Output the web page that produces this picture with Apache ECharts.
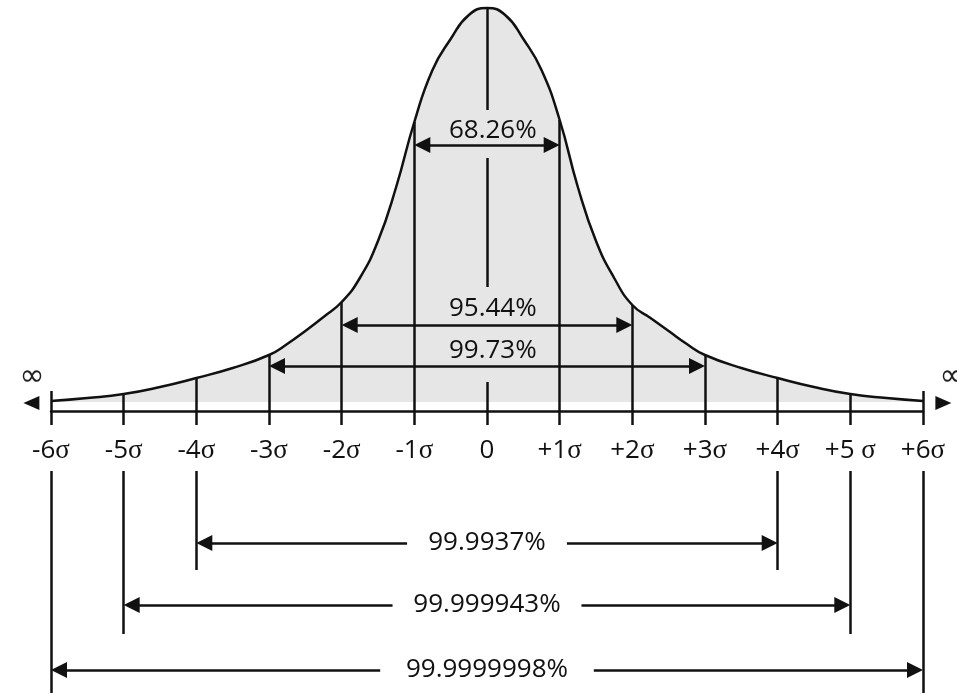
<!DOCTYPE html>
<html>
<head>
<meta charset="utf-8">
<title>Normal distribution – sigma bands</title>
<script src="https://cdn.jsdelivr.net/npm/echarts@6/dist/echarts.min.js"></script>
<style>
  html, body { margin: 0; padding: 0; background: #fff; }
  #chart { width: 957px; height: 693px; }
</style>
</head>
<body>
<div id="chart"></div>
<script>
// curve: x in sigma, height = px above the axis line
const curveSigma = [-6, -5.5, -5, -4.5, -4, -3.5, -3, -2.75, -2.5, -2.25, -2, -1.75, -1.5, -1.25, -1, -0.75, -0.5, -0.25, 0,
  0.25, 0.5, 0.75, 1, 1.25, 1.5, 1.75, 2, 2.25, 2.5, 2.75, 3, 3.5, 4, 4.5, 5, 5.5, 6]
const curveHeight = [10, 13, 17, 24, 33, 43, 56, 67, 80, 94, 109, 133, 170, 224, 289, 341, 372, 396, 403,
  396, 372, 341, 291, 224, 170, 133, 106, 93, 80, 67, 56, 43, 33, 24, 17, 13, 10]

const tickSigma = [-6, -5, -4, -3, -2, -1, 0, 1, 2, 3, 4, 5, 6]
const tickLabels = ['-6σ', '-5σ', '-4σ', '-3σ', '-2σ', '-1σ', '0', '+1σ', '+2σ', '+3σ', '+4σ', '+5 σ', '+6σ']

const innerBandLabels = ['68.26%', '95.44%', '99.73%']
const innerBandSigma = [1, 2, 3]
const outerBandLabels = ['99.9937%', '99.999943%', '99.9999998%']
const outerBandSigma = [4, 5, 6]

// layout (y in px above the axis line, x in sigma)
const BASE = 9
const TICK_END = -14
const TICK_LABEL_Y = -40
const END_TICK_TOP = 20
const ZERO_SEGMENTS = [[403, 301], [253, 124], [29, TICK_END]]
const INNER_ARROW_Y = [266, 86, 45]
const INNER_TEXT_Y = [280, 102, 60]
const INNER_TEXT_X = 0.08
const OUTER_LINE_TOP = -60
const OUTER_LINE_END = [-159, -223, -282]
const OUTER_ARROW_Y = [-132, -194, -259]
const OUTER_GAP = [1.1, 1.3, 1.47]
const HEAD = 0.11

const INK = '#111'
const TEXT = '#111'
const FONT = '"Open Sans", "Liberation Sans", sans-serif'

const curveAt = s => curveHeight[curveSigma.indexOf(s)]

const tickLines = []
tickSigma.forEach(s => {
  if (s === 0) {
    ZERO_SEGMENTS.forEach(seg => tickLines.push({ coords: [[0, seg[0]], [0, seg[1]]] }))
  } else {
    const top = Math.abs(s) === 6 ? END_TICK_TOP : curveAt(s)
    tickLines.push({ coords: [[s, top], [s, TICK_END]] })
  }
})
outerBandSigma.forEach((s, i) => {
  tickLines.push({ coords: [[-s, OUTER_LINE_TOP], [-s, OUTER_LINE_END[i]]] })
  tickLines.push({ coords: [[s, OUTER_LINE_TOP], [s, OUTER_LINE_END[i]]] })
})

const doubleArrows = innerBandSigma.map((s, i) => ({
  coords: [[-s + HEAD, INNER_ARROW_Y[i]], [s - HEAD, INNER_ARROW_Y[i]]]
}))
const leftArrows = outerBandSigma.map((s, i) => ({
  coords: [[-s + HEAD, OUTER_ARROW_Y[i]], [-OUTER_GAP[i], OUTER_ARROW_Y[i]]]
}))
const rightArrows = outerBandSigma.map((s, i) => ({
  coords: [[OUTER_GAP[i], OUTER_ARROW_Y[i]], [s - HEAD, OUTER_ARROW_Y[i]]]
}))

const bandTexts = innerBandLabels.map((t, i) => [INNER_TEXT_X, INNER_TEXT_Y[i], t])
  .concat(outerBandLabels.map((t, i) => [0, OUTER_ARROW_Y[i], t]))

const chart = echarts.init(document.getElementById('chart'), null, { renderer: 'canvas' })

const lineSeries = (data, symbol) => ({
  type: 'lines',
  coordinateSystem: 'cartesian2d',
  polyline: false,
  symbol: symbol,
  symbolSize: 16,
  silent: true,
  lineStyle: { color: INK, width: 2.5, opacity: 1, curveness: 0 },
  data: data,
  z: 4
})

const textSeries = (data, label) => ({
  type: 'scatter',
  data: data,
  symbolSize: 0,
  silent: true,
  clip: false,
  itemStyle: { opacity: 1 },
  label: Object.assign({
    show: true,
    position: 'inside',
    color: TEXT,
    opacity: 1,
    fontFamily: FONT,
    fontSize: 26
  }, label),
  z: 5
})

const option = {
  animation: false,
  backgroundColor: '#fff',
  grid: { left: 51, right: 34, top: 0, bottom: 0, containLabel: false, outerBoundsMode: 'none' },
  xAxis: {
    type: 'value',
    min: -6,
    max: 6,
    interval: 1,
    axisLine: { onZero: true, lineStyle: { color: INK, width: 2.5 } },
    axisTick: { show: false },
    splitLine: { show: false },
    axisLabel: { show: false }
  },
  yAxis: {
    type: 'value',
    min: -282,
    max: 411,
    show: false
  },
  series: [
    {
      type: 'line',
      data: curveSigma.map((s, i) => [s, curveHeight[i]]),
      smooth: 0.5,
      showSymbol: false,
      symbol: 'none',
      lineStyle: { color: INK, width: 2.5 },
      areaStyle: { color: '#e6e6e6', opacity: 1, origin: BASE },
      z: 2
    },
    lineSeries(tickLines, ['none', 'none']),
    lineSeries(doubleArrows, ['triangle', 'triangle']),
    lineSeries(leftArrows, ['triangle', 'none']),
    lineSeries(rightArrows, ['none', 'triangle']),
    textSeries(bandTexts, { formatter: p => p.value[2] }),
    textSeries(tickSigma.map((s, i) => [s, TICK_LABEL_Y, tickLabels[i]]), {
      formatter: p => p.value[2].replace('σ', '{s|σ}'),
      rich: {
        s: { fontFamily: '"Liberation Serif", serif', fontSize: 27, color: TEXT }
      }
    }),
    {
      // open ends of the axis
      type: 'scatter',
      clip: false,
      silent: true,
      data: [
        { value: [-6.27, 8], symbolRotate: 90 },
        { value: [6.28, 8], symbolRotate: -90 }
      ],
      symbol: 'triangle',
      symbolSize: [14, 16],
      itemStyle: { color: INK, opacity: 1 },
      z: 5
    },
    textSeries([[-6.26, 34], [6.4, 34]], {
      formatter: '∞',
      color: '#222',
      fontFamily: '"DejaVu Sans", sans-serif',
      fontSize: 30
    })
  ]
}

chart.setOption(option)
</script>
</body>
</html>
